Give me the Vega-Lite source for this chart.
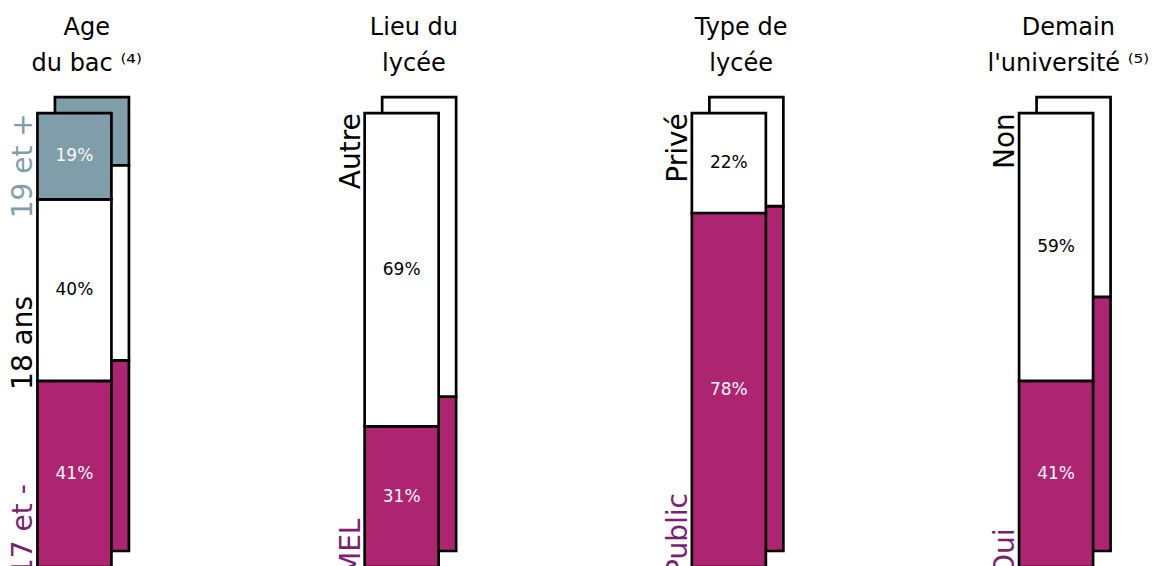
{
  "$schema": "https://vega.github.io/schema/vega-lite/v6.json",
  "width": 1176,
  "height": 472,
  "autosize": {"type": "none"},
  "padding": {"left": 0, "top": 95, "right": 0, "bottom": 0},
  "background": "white",
  "config": {"view": {"stroke": null}, "font": "DejaVu Sans"},
  "data": {"values": [
    {"groupe": "Age|du bac ⁽⁴⁾", "cat": "17 et -", "ord": 1, "pop": "front", "value": 0.41},
    {"groupe": "Age|du bac ⁽⁴⁾", "cat": "18 ans", "ord": 2, "pop": "front", "value": 0.40},
    {"groupe": "Age|du bac ⁽⁴⁾", "cat": "19 et +", "ord": 3, "pop": "front", "value": 0.19},
    {"groupe": "Age|du bac ⁽⁴⁾", "cat": "17 et -", "ord": 1, "pop": "back", "value": 0.42},
    {"groupe": "Age|du bac ⁽⁴⁾", "cat": "18 ans", "ord": 2, "pop": "back", "value": 0.43},
    {"groupe": "Age|du bac ⁽⁴⁾", "cat": "19 et +", "ord": 3, "pop": "back", "value": 0.15},
    {"groupe": "Lieu du|lycée", "cat": "MEL", "ord": 1, "pop": "front", "value": 0.31},
    {"groupe": "Lieu du|lycée", "cat": "Autre", "ord": 2, "pop": "front", "value": 0.69},
    {"groupe": "Lieu du|lycée", "cat": "MEL", "ord": 1, "pop": "back", "value": 0.34},
    {"groupe": "Lieu du|lycée", "cat": "Autre", "ord": 2, "pop": "back", "value": 0.66},
    {"groupe": "Type de|lycée", "cat": "Public", "ord": 1, "pop": "front", "value": 0.78},
    {"groupe": "Type de|lycée", "cat": "Privé", "ord": 2, "pop": "front", "value": 0.22},
    {"groupe": "Type de|lycée", "cat": "Public", "ord": 1, "pop": "back", "value": 0.76},
    {"groupe": "Type de|lycée", "cat": "Privé", "ord": 2, "pop": "back", "value": 0.24},
    {"groupe": "Demain|l'université ⁽⁵⁾", "cat": "Oui", "ord": 1, "pop": "front", "value": 0.41},
    {"groupe": "Demain|l'université ⁽⁵⁾", "cat": "Non", "ord": 2, "pop": "front", "value": 0.59},
    {"groupe": "Demain|l'université ⁽⁵⁾", "cat": "Oui", "ord": 1, "pop": "back", "value": 0.56},
    {"groupe": "Demain|l'université ⁽⁵⁾", "cat": "Non", "ord": 2, "pop": "back", "value": 0.44}
  ]},
  "encoding": {
    "x": {
      "field": "groupe", "type": "nominal", "sort": null,
      "scale": {"type": "point", "padding": 0.297, "align": 0.428},
      "axis": {
        "orient": "top", "title": null, "domain": false, "ticks": false, "grid": false,
        "labelAngle": 0, "labelFontSize": 24, "labelFont": "DejaVu Sans", "labelColor": "#000000",
        "labelPadding": 61, "labelBaseline": "alphabetic", "labelLineHeight": 36,
        "labelExpr": "split(datum.label, '|')", "labelOffset": 3,
        "labelOverlap": false, "labelBound": false, "labelFlush": false
      }
    }
  },
  "layer": [
    {
      "transform": [{"filter": "datum.pop == 'back'"}],
      "mark": {"type": "bar", "width": 74, "xOffset": 8.75, "yOffset": -16, "stroke": "#000000", "strokeWidth": 2.7},
      "encoding": {
        "y": {"field": "value", "type": "quantitative", "stack": "zero", "scale": {"domain": [0, 1.04], "nice": false}, "axis": null},
        "order": {"field": "ord", "type": "quantitative", "sort": "ascending"},
        "fill": {"field": "cat", "type": "nominal", "legend": null,
          "scale": {"domain": ["17 et -", "18 ans", "19 et +", "MEL", "Autre", "Public", "Privé", "Oui", "Non"],
                    "range": ["#ad2470", "#ffffff", "#7f9eaa", "#ad2470", "#ffffff", "#ad2470", "#ffffff", "#ad2470", "#ffffff"]}}
      }
    },
    {
      "transform": [{"filter": "datum.pop == 'front'"}],
      "mark": {"type": "bar", "width": 74, "xOffset": -8.75, "stroke": "#000000", "strokeWidth": 2.7},
      "encoding": {
        "y": {"field": "value", "type": "quantitative", "stack": "zero", "axis": null},
        "order": {"field": "ord", "type": "quantitative", "sort": "ascending"},
        "fill": {"field": "cat", "type": "nominal", "legend": null}
      }
    },
    {
      "transform": [
        {"filter": "datum.pop == 'front'"},
        {"stack": "value", "groupby": ["groupe"], "sort": [{"field": "ord", "order": "ascending"}], "as": ["v0", "v1"], "offset": "zero"},
        {"calculate": "(datum.v0 + datum.v1) / 2", "as": "mid"}
      ],
      "mark": {"type": "text", "xOffset": -8.75, "fontSize": 17, "baseline": "middle", "align": "center", "font": "DejaVu Sans"},
      "encoding": {
        "y": {"field": "mid", "type": "quantitative", "axis": null},
        "text": {"field": "value", "type": "quantitative", "format": ".0%"},
        "color": {"field": "cat", "type": "nominal", "legend": null,
          "scale": {"domain": ["17 et -", "18 ans", "19 et +", "MEL", "Autre", "Public", "Privé", "Oui", "Non"],
                    "range": ["#f8f8f8", "#000000", "#f8f8f8", "#f8f8f8", "#000000", "#f8f8f8", "#000000", "#f8f8f8", "#000000"]}}
      }
    },
    {
      "transform": [
        {"filter": "datum.pop == 'front'"},
        {"stack": "value", "groupby": ["groupe"], "sort": [{"field": "ord", "order": "ascending"}], "as": ["v0", "v1"], "offset": "zero"},
        {"joinaggregate": [{"op": "max", "field": "ord", "as": "maxo"}], "groupby": ["groupe"]}
      ],
      "encoding": {
        "color": {"field": "cat", "type": "nominal", "legend": null,
          "scale": {"domain": ["17 et -", "18 ans", "19 et +", "MEL", "Autre", "Public", "Privé", "Oui", "Non"],
                    "range": ["#7b1f6e", "#000000", "#7f9eaa", "#7b1f6e", "#000000", "#7b1f6e", "#000000", "#7b1f6e", "#000000"]}},
        "text": {"field": "cat", "type": "nominal"}
      },
      "layer": [
        {
          "transform": [{"filter": "datum.ord == datum.maxo"}],
          "mark": {"type": "text", "angle": 270, "align": "right", "baseline": "alphabetic", "xOffset": -50.75, "fontSize": 28, "font": "DejaVu Sans"},
          "encoding": {"y": {"field": "v1", "type": "quantitative", "axis": null}}
        },
        {
          "transform": [{"filter": "datum.ord < datum.maxo"}],
          "mark": {"type": "text", "angle": 270, "align": "left", "baseline": "alphabetic", "xOffset": -50.75, "yOffset": 9, "fontSize": 28, "font": "DejaVu Sans"},
          "encoding": {"y": {"field": "v0", "type": "quantitative", "axis": null}}
        }
      ]
    }
  ],
  "resolve": {"scale": {"color": "independent"}}
}
